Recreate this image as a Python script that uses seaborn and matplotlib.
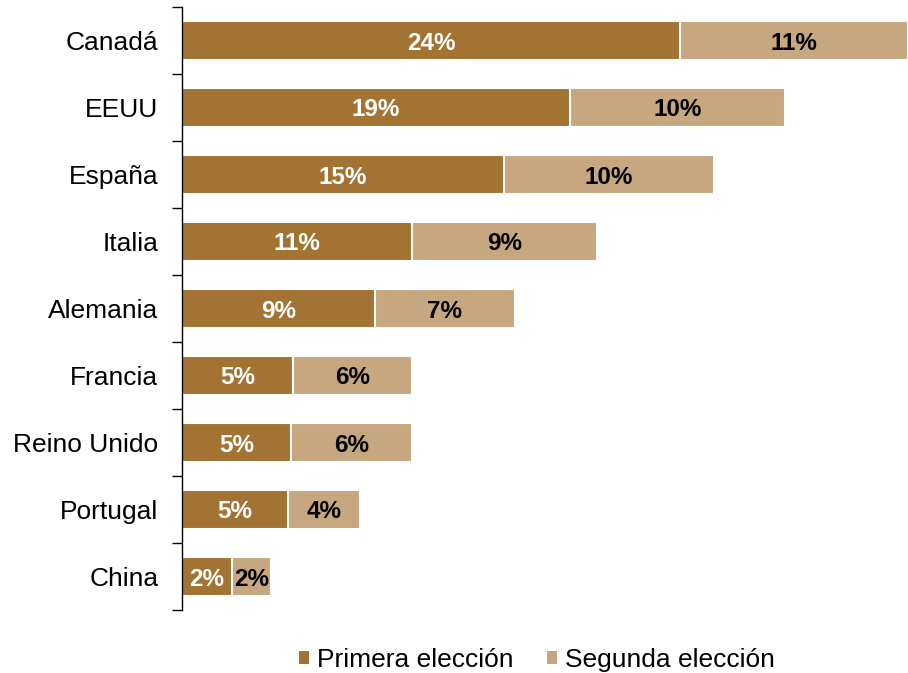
import matplotlib
matplotlib.use("Agg")
import matplotlib.pyplot as plt
import seaborn as sns
import pandas as pd
import numpy as np
from matplotlib.patches import Patch

countries = ["Canadá", "EEUU", "España", "Italia", "Alemania", "Francia",
             "Reino Unido", "Portugal", "China"]
primera = [24.0, 18.7, 15.5, 11.1, 9.3, 5.35, 5.25, 5.1, 2.4]
segunda = [11.0, 10.35, 10.15, 8.9, 6.75, 5.75, 5.85, 3.5, 1.9]
primera_labels = ["24%", "19%", "15%", "11%", "9%", "5%", "5%", "5%", "2%"]
segunda_labels = ["11%", "10%", "10%", "9%", "7%", "6%", "6%", "4%", "2%"]
series_names = ["Primera elección", "Segunda elección"]

c1 = "#A27333"
c2 = "#C6A77F"

sns.set_theme(style="white")
plt.rcParams["font.family"] = ["Liberation Sans", "DejaVu Sans"]
plt.rcParams["text.color"] = "black"

df = pd.DataFrame({"pais": countries, "primera": primera, "segunda": segunda})
df["total"] = df["primera"] + df["segunda"]

fig = plt.figure(figsize=(9.08, 6.73), dpi=100)
ax = fig.add_axes([182 / 908, 1 - 610 / 673, 1 - 182 / 908, (610 - 7) / 673])

sns.barplot(data=df, y="pais", x="total", orient="h", color=c2, width=0.58,
            edgecolor="white", linewidth=1.5, ax=ax, saturation=1)
sns.barplot(data=df, y="pais", x="primera", orient="h", color=c1, width=0.58,
            edgecolor="white", linewidth=1.5, ax=ax, saturation=1)

for i in range(len(countries)):
    ax.text(primera[i] / 2, i, primera_labels[i], ha="center", va="center_baseline",
            color="white", fontweight="bold", fontsize=17.5)
    ax.text(primera[i] + segunda[i] / 2, i, segunda_labels[i], ha="center",
            va="center_baseline", color="black", fontweight="bold", fontsize=17.5)

ax.set_xlim(0, 35)
ax.set_ylim(len(countries) - 0.5, -0.5)
ax.set_xlabel("")
ax.set_ylabel("")
ax.set_xticks([])
for s in ["top", "right", "bottom"]:
    ax.spines[s].set_visible(False)
ax.spines["left"].set_color("black")
ax.spines["left"].set_linewidth(1.0)
ax.tick_params(axis="y", which="major", length=0, pad=17, labelsize=19,
               labelcolor="black")
ax.set_yticks(np.arange(-0.5, len(countries), 1.0), minor=True)
ax.tick_params(axis="y", which="minor", length=7, width=1.0, direction="out",
               color="black", left=True)

handles = [Patch(facecolor=c1, edgecolor="none"), Patch(facecolor=c2, edgecolor="none")]
fig.legend(handles, series_names, loc="center", bbox_to_anchor=(537 / 908, 1 - 660 / 673),
           ncol=2, frameon=False, fontsize=19, handlelength=0.38, handleheight=0.38,
           handletextpad=0.3, columnspacing=1.3, labelcolor="black")

fig.savefig("out.png", dpi=100)
